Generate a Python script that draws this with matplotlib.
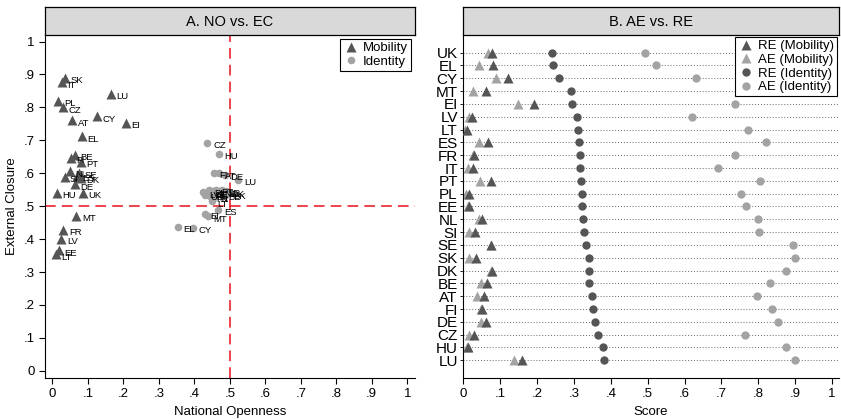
import matplotlib.pyplot as plt
from matplotlib.lines import Line2D

plt.rcParams['font.family'] = ['Liberation Sans', 'DejaVu Sans']

countries = ["UK", "EL", "CY", "MT", "EI", "LV", "LT", "ES", "FR", "IT", "PT", "PL", "EE",
             "NL", "SI", "SE", "SK", "DK", "BE", "AT", "FI", "DE", "CZ", "HU", "LU"]

# panel A: national openness / external closure
mob_no = [.086, .083, .126, .067, .206, .025, .010, .068, .031, .027, .080, .017, .018,
          .050, .034, .075, .035, .080, .063, .056, .052, .064, .029, .012, .164]
mob_ec = [.541, .712, .773, .471, .753, .401, .354, .592, .429, .876, .635, .819, .366,
          .606, .589, .602, .890, .585, .655, .761, .647, .566, .800, .541, .841]
id_no = [.430, .353, .395, .438, .430, .425, .449, .468, .445, .452, .460, .440, .443,
         .470, .455, .478, .495, .488, .480, .470, .455, .485, .437, .470, .524]
id_ec = [.535, .437, .434, .469, .477, .542, .515, .489, .530, .545, .550, .548, .540,
         .545, .528, .548, .538, .545, .535, .600, .601, .596, .692, .659, .581]

# panel B: scores
re_mob = [.078, .081, .121, .061, .192, .023, .009, .068, .030, .027, .076, .016, .016,
          .050, .033, .076, .034, .077, .063, .056, .051, .061, .029, .012, .160]
ae_mob = [.066, .043, .089, .027, .147, .016, .005, .043, .025, .014, .045, .007, .012,
          .043, .016, .074, .015, .075, .048, .038, .049, .048, .015, .010, .138]
re_id = [.241, .242, .260, .292, .294, .309, .311, .314, .316, .316, .320, .321, .321,
         .324, .328, .334, .340, .341, .341, .348, .351, .357, .366, .379, .381]
ae_id = [.492, .524, .631, .860, .737, .621, .772, .822, .737, .691, .805, .752, .768,
         .798, .802, .894, .899, .874, .831, .797, .838, .854, .763, .874, .899]

ticks = [i / 10 for i in range(11)]
tick_labels = ["0"] + ["." + str(i) for i in range(1, 10)] + ["1"]

DARK = '#555555'
LIGHT = '#a3a3a3'

fig = plt.figure(figsize=(8.41, 4.20), dpi=100)


def add_strip(x0, w, title):
    s = fig.add_axes([x0, 0.9167, w, 0.0667])
    s.set_facecolor('#d9d9d9')
    s.set_xticks([])
    s.set_yticks([])
    for sp in s.spines.values():
        sp.set_linewidth(0.9)
    s.text(0.5, 0.45, title, ha='center', va='center', fontsize=10.5)


# ---- panel A ----
ax = fig.add_axes([0.0535, 0.1007, 0.44, 0.816])
ax.axvline(0.5, color='#e8101a', ls=(0, (7, 4)), lw=1.1, zorder=1)
ax.axhline(0.5, color='#e8101a', ls=(0, (7, 4)), lw=1.1, zorder=1)
ax.plot(id_no, id_ec, 'o', color=LIGHT, ms=5.5, mec='none', zorder=2, label='Identity')
ax.plot(mob_no, mob_ec, '^', color=DARK, ms=7, mec='none', zorder=3, label='Mobility')
for c, x, y in zip(countries, mob_no, mob_ec):
    ax.annotate(c, (x, y), xytext=(4, -2), textcoords='offset points',
                fontsize=6.8, va='center', zorder=4)
for c, x, y in zip(countries, id_no, id_ec):
    ax.annotate(c, (x, y), xytext=(4, -2), textcoords='offset points',
                fontsize=6.8, va='center', zorder=4)
ax.set_xlim(-0.021, 1.022)
ax.set_ylim(-0.021, 1.02)
ax.set_xticks(ticks)
ax.set_xticklabels(tick_labels)
ax.set_yticks(ticks)
ax.set_yticklabels(tick_labels)
ax.spines['top'].set_visible(False)
ax.spines['right'].set_visible(False)
ax.tick_params(labelsize=9.5, length=4, width=0.8)
ax.set_xlabel("National Openness", fontsize=9.5)
ax.set_ylabel("External Closure", fontsize=9.5)
h = [Line2D([], [], marker='^', color=DARK, ls='none', ms=7, mec='none'),
     Line2D([], [], marker='o', color=LIGHT, ls='none', ms=5.5, mec='none')]
leg = ax.legend(h, ['Mobility', 'Identity'], loc='upper right', fontsize=9.5,
                fancybox=False, edgecolor='black', framealpha=1, borderpad=0.25,
                handletextpad=0.3, handlelength=1.2, labelspacing=0.1,
                borderaxespad=0.3)
leg.get_frame().set_linewidth(0.8)
add_strip(0.0535, 0.44, "A. NO vs. EC")

# ---- panel B ----
bx = fig.add_axes([0.5509, 0.1007, 0.4467, 0.816])
rows = list(range(len(countries)))
for r in rows:
    bx.axhline(r, color='#666666', ls=(0, (1, 2)), lw=0.7, zorder=1)
bx.plot(ae_mob, rows, '^', color=LIGHT, ms=7, mec='none', zorder=2)
bx.plot(re_mob, rows, '^', color=DARK, ms=7, mec='none', zorder=3)
bx.plot(re_id, rows, 'o', color=DARK, ms=6, mec='none', zorder=3)
bx.plot(ae_id, rows, 'o', color=LIGHT, ms=6, mec='none', zorder=2)
bx.set_xlim(0, 1.019)
bx.set_ylim(25.36, -1.38)
bx.set_yticks(rows)
bx.set_yticklabels(countries)
bx.set_xticks(ticks)
bx.set_xticklabels(tick_labels)
bx.spines['top'].set_visible(False)
bx.spines['right'].set_visible(False)
bx.tick_params(axis='x', labelsize=9.5, length=4, width=0.8)
bx.tick_params(axis='y', labelsize=11, length=2, width=0.6, pad=2)
bx.set_xlabel("Score", fontsize=9.5)
h2 = [Line2D([], [], marker='^', color=DARK, ls='none', ms=7, mec='none'),
      Line2D([], [], marker='^', color=LIGHT, ls='none', ms=7, mec='none'),
      Line2D([], [], marker='o', color=DARK, ls='none', ms=6, mec='none'),
      Line2D([], [], marker='o', color=LIGHT, ls='none', ms=6, mec='none')]
leg2 = bx.legend(h2, ['RE (Mobility)', 'AE (Mobility)', 'RE (Identity)', 'AE (Identity)'],
                 loc='upper right', fontsize=9.5, fancybox=False, edgecolor='black',
                 framealpha=1, borderpad=0.25, handletextpad=0.3, handlelength=1.2,
                 labelspacing=0.1, borderaxespad=0.15)
leg2.get_frame().set_linewidth(0.8)
leg2.set_zorder(10)
add_strip(0.5509, 0.4467, "B. AE vs. RE")

fig.savefig("out.png", dpi=100)
